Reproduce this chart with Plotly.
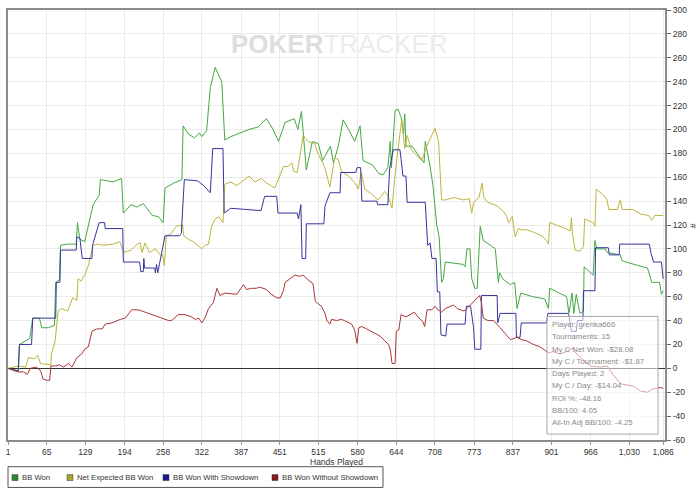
import plotly.graph_objects as go

# ---------------- data ----------------
bbwon_hands = [1, 18, 20, 37, 42, 53, 57, 68, 78, 80, 86, 88, 100, 112, 114, 116, 120, 128, 142, 152, 154, 165, 175, 189,
               192, 205, 215, 225, 232, 240, 250, 258, 261, 275, 289, 291, 300, 310, 318, 322, 330, 336,
               344, 350, 355, 360, 370, 385, 400, 415, 429, 440, 449, 460, 475, 481, 487, 495, 505, 515,
               522, 535, 540, 548, 556, 565, 575, 584, 589, 605, 615, 622, 630, 634, 636, 642, 647, 652,
               656, 658, 660, 670, 690, 692, 700, 705, 711, 715, 719, 722, 725, 740, 755, 758, 761, 766,
               769, 774, 778, 783, 788, 800, 808, 813, 815, 820, 833, 840, 844, 850, 870, 890, 896, 898,
               910, 920, 926, 930, 935, 938, 942, 948, 954, 955, 970, 973, 976, 990, 993, 1015, 1018,
               1045, 1060, 1067, 1080, 1083, 1086]
bbwon_vals = [0, -3, 20, 25, 42, 42, 34, 34, 36, 72, 74, 103, 104, 104, 104, 122, 108, 106, 137, 145, 158, 157, 156, 159,
              130, 137, 135, 138, 133, 128, 127, 122, 151, 155, 158, 203, 196, 193, 197, 194, 199, 235,
              252, 245, 240, 191, 194, 197, 200, 202, 209, 200, 190, 206, 209, 200, 215, 166, 190, 188,
              174, 186, 172, 186, 208, 200, 190, 203, 174, 170, 163, 162, 168, 190, 168, 216, 217, 210,
              196, 213, 186, 186, 172, 190, 169, 152, 120, 110, 72, 75, 89, 88, 87, 85, 100, 100,
              75, 67, 67, 119, 107, 103, 100, 72, 80, 75, 70, 72, 50, 63, 60, 58, 50, 67,
              64, 62, 60, 46, 63, 46, 62, 46, 48, 85, 78, 107, 100, 100, 97, 95, 90,
              86, 84, 72, 72, 62, 65]

netexp_hands = [1, 18, 30, 35, 45, 50, 55, 68, 72, 73, 79, 84, 90, 100, 108, 115, 117, 122, 128, 134,
                142, 150, 160, 175, 186, 193, 205, 215, 220, 223, 228, 235, 245, 253, 257, 260, 263, 270,
                280, 290, 292, 300, 308, 322, 327, 333, 338, 344, 350, 357, 360, 370, 380, 390, 400, 410,
                420, 430, 443, 451, 457, 465, 471, 474, 480, 490, 498, 509, 514, 525, 534, 542, 548, 553,
                565, 576, 581, 586, 592, 603, 614, 625, 630, 637, 642, 648, 653, 658, 662, 669, 686, 692,
                703, 708, 714, 719, 725, 740, 755, 765, 769, 772, 781, 786, 789, 795, 807, 813, 822, 827,
                830, 833, 836, 841, 846, 852, 860, 871, 885, 893, 896, 898, 915, 925, 932, 934, 936, 940,
                948, 954, 956, 970, 973, 975, 987, 993, 996, 1010, 1015, 1018, 1035, 1050, 1062, 1067,
                1072, 1086]
netexp_vals = [0, 2, 1, 9, 8, 11, 4, 3, 3, 12, 23, 48, 50, 48, 59, 57, 75, 73, 78, 86,
               103, 104, 103, 104, 106, 97, 99, 104, 105, 97, 105, 97, 100, 95, 95, 86, 111, 112,
               119, 120, 111, 108, 106, 100, 103, 104, 119, 125, 127, 122, 154, 156, 153, 157, 161, 156,
               159, 155, 151, 161, 169, 169, 172, 165, 164, 195, 190, 188, 180, 169, 152, 176, 175, 165,
               161, 155, 150, 164, 150, 146, 141, 148, 145, 134, 162, 188, 208, 184, 195, 183, 174, 183,
               196, 201, 190, 141, 141, 143, 141, 142, 130, 139, 143, 155, 143, 139, 137, 135, 131, 127,
               122, 124, 127, 110, 117, 116, 116, 114, 111, 107, 104, 122, 119, 117, 115, 126, 112, 99,
               98, 102, 125, 122, 119, 150, 145, 141, 133, 133, 141, 133, 133, 129, 128, 124,
               128, 128]

sd_hands = [1, 18, 20, 40, 42, 80, 81, 87, 88, 114, 115, 120, 124, 140, 141, 152, 161, 162, 191, 192,
            219, 221, 225, 226, 227, 244, 245, 247, 249, 261, 285, 288, 293, 315, 325, 336, 338, 340,
            357, 359, 370, 420, 426, 446, 448, 480, 482, 486, 488, 494, 495, 524, 526, 534, 551, 552,
            577, 579, 585, 587, 612, 613, 630, 633, 639, 650, 652, 655, 660, 662, 692, 694, 696, 700,
            703, 710, 712, 716, 718, 726, 728, 758, 760, 767, 769, 772, 774, 784, 785, 811, 812, 816,
            842, 843, 849, 851, 893, 895, 928, 930, 934, 942, 944, 953, 954, 973, 974, 995, 997, 1013,
            1014, 1063, 1066, 1070, 1083, 1086]
sd_vals = [0, -2, 20, 20, 42, 42, 72, 72, 99, 99, 110, 109, 92, 92, 103, 122, 122, 117, 117, 89,
           89, 81, 81, 92, 84, 84, 80, 87, 80, 111, 111, 113, 158, 157, 153, 147, 165, 184,
           184, 130, 134, 132, 144, 144, 130, 130, 125, 137, 92, 92, 121, 121, 136, 147, 147, 164,
           164, 168, 168, 140, 140, 137, 137, 167, 183, 183, 175, 161, 161, 139, 139, 119, 103, 105,
           92, 92, 64, 64, 28, 27, 37, 37, 52, 52, 46, 34, 16, 16, 61, 61, 38, 46,
           46, 26, 26, 38, 38, 46, 46, 44, 31, 31, 40, 40, 65, 65, 101, 101, 95, 95,
           104, 104, 96, 89, 89, 75]

nsd_hands = [1, 18, 27, 33, 38, 48, 55, 59, 65, 70, 72, 80, 86, 93, 101, 107, 115, 123, 128, 134,
             140, 148, 157, 162, 173, 187, 195, 206, 217, 228, 239, 250, 261, 267, 272, 278, 283, 294,
             305, 311, 317, 322, 327, 333, 341, 347, 352, 360, 380, 391, 396, 404, 412, 418, 429, 437,
             446, 452, 457, 460, 468, 476, 484, 490, 498, 506, 510, 520, 526, 529, 534, 537, 545, 553,
             558, 570, 575, 579, 582, 587, 595, 606, 617, 625, 631, 634, 637, 642, 644, 648, 652, 660,
             666, 674, 680, 688, 691, 695, 703, 708, 713, 719, 725, 739, 745, 751, 756, 761, 773, 782,
             785, 788, 796, 805, 816, 827, 833, 844, 852, 860, 871, 882, 896, 904, 915, 926, 935, 943,
             954, 965, 982, 993, 1004, 1016, 1027, 1038, 1048, 1060, 1070, 1082, 1086]
nsd_vals = [0, -3, -3, -5, 0, 1, -2, -9, -10, -10, 2, 2, 3, 1, 4, 1, 9, 12, 16, 18,
            31, 33, 33, 37, 38, 41, 42, 49, 49, 47, 45, 43, 41, 40, 40, 43, 45, 45,
            43, 41, 42, 38, 42, 50, 55, 67, 61, 63, 62, 70, 66, 67, 67, 68, 66, 62,
            59, 59, 65, 72, 75, 78, 77, 78, 74, 71, 56, 52, 46, 40, 37, 41, 40, 41,
            40, 37, 32, 21, 34, 35, 33, 30, 27, 23, 20, 16, 4, 4, 31, 32, 45, 43,
            45, 47, 43, 39, 35, 49, 49, 52, 49, 47, 50, 53, 50, 49, 48, 50, 56, 61,
            55, 42, 40, 40, 34, 28, 24, 26, 24, 23, 20, 18, 13, 14, 12, 14, 17, 12,
            7, 2, 1, 2, -6, -13, -14, -15, -19, -20, -17, -16, -17]

series_names = ["BB Won", "Net Expected BB Won", "BB Won With Showdown", "BB Won Without Showdown"]
series_hands = [bbwon_hands, netexp_hands, sd_hands, nsd_hands]
series_vals = [bbwon_vals, netexp_vals, sd_vals, nsd_vals]

x_tickvals = [1, 65, 129, 194, 258, 322, 387, 451, 515, 580, 644, 708, 773, 837, 901, 966, 1030, 1086]
x_ticktext = ["1", "65", "129", "194", "258", "322", "387", "451", "515", "580", "644", "708",
              "773", "837", "901", "966", "1,030", "1,086"]
y_tickvals = list(range(-60, 301, 20))
y_ticktext = [str(v) for v in y_tickvals]

info_lines = ["Player: grenka666", "Tournaments: 15", "My C Net Won: -$28.08",
              "My C / Tournament: -$1.87", "Days Played: 2", "My C / Day: -$14.04",
              "ROI %: -48.16", "BB/100: 4.05", "All-In Adj BB/100: -4.25"]

# ---------------- styling ----------------
line_colors = ["#43a843", "#bdb53a", "#34349c", "#a83636"]
legend_colors = ["#2f8a2f", "#a8a830", "#1a1a88", "#8a1a1a"]

W, H = 700, 494
ML, MR, MT, MB = 8, 35, 5, 54
PW, PH = W - ML - MR, H - MT - MB

def px_x(px):
    return (px - ML) / PW

def px_y(py):
    return (H - MB - py) / PH

fig = go.Figure()
for name, hx, vy, col in zip(series_names, series_hands, series_vals, line_colors):
    fig.add_trace(go.Scatter(x=hx, y=vy, mode="lines", name=name,
                             line=dict(color=col, width=1), showlegend=False,
                             hoverinfo="skip"))

font_main = "Liberation Sans, Arial, sans-serif"

fig.update_layout(
    width=W, height=H,
    margin=dict(l=ML, r=MR, t=MT, b=MB),
    paper_bgcolor="white", plot_bgcolor="white",
    showlegend=False,
    font=dict(family=font_main, size=8.5, color="#333333"),
    xaxis=dict(range=[1, 1089], tickvals=x_tickvals, ticktext=x_ticktext,
               showgrid=True, gridcolor="#ebebeb", gridwidth=1,
               zeroline=False, showline=True, linecolor="#8c8c8c", linewidth=2,
               mirror=True, ticks="outside", ticklen=3, tickcolor="#999999",
               tickfont=dict(size=8.5, color="#333333")),
    yaxis=dict(range=[-60, 300], side="right", tickvals=y_tickvals, ticktext=y_ticktext,
               showgrid=True, gridcolor="#ebebeb", gridwidth=1,
               zeroline=True, zerolinecolor="#333333", zerolinewidth=1,
               showline=True, linecolor="#8c8c8c", linewidth=2, mirror=True,
               ticks="outside", ticklen=4, tickcolor="#666666",
               tickfont=dict(size=8.5, color="#333333")),
)

annotations = []
shapes = []

# watermark
annotations.append(dict(
    x=px_x(339), y=px_y(39), xref="paper", yref="paper", showarrow=False,
    text="<b><span style='color:#dedede'>POKER</span></b><span style='color:#ececec'>TRACKER</span>",
    font=dict(family="Liberation Sans, Arial, sans-serif", size=26),
    xanchor="center", yanchor="middle"))

# axis titles
annotations.append(dict(x=px_x(336), y=px_y(462), xref="paper", yref="paper", showarrow=False,
                        text="Hands Played", font=dict(size=8.5, color="#333333"),
                        xanchor="center", yanchor="middle"))
annotations.append(dict(x=px_x(693), y=px_y(223), xref="paper", yref="paper", showarrow=False,
                        text="#", textangle=90, font=dict(size=8.5, color="#333333"),
                        xanchor="center", yanchor="middle"))

# info box
shapes.append(dict(type="rect", xref="paper", yref="paper",
                   x0=px_x(547), x1=px_x(658), y0=px_y(434), y1=px_y(315),
                   fillcolor="rgba(255,255,255,0.55)", line=dict(color="#a8a8a8", width=1),
                   layer="above"))
for i, t in enumerate(info_lines):
    annotations.append(dict(x=px_x(550), y=px_y(323.3 + i * 12.4), xref="paper", yref="paper",
                            showarrow=False, text=t, xanchor="left", yanchor="middle",
                            font=dict(size=7.8, color="#8a8a8a")))

# legend (manual)
shapes.append(dict(type="rect", xref="paper", yref="paper",
                   x0=px_x(8), x1=px_x(383), y0=px_y(488), y1=px_y(467),
                   fillcolor="white", line=dict(color="#555555", width=1)))
leg_sq_x = [12, 67, 163, 272]
for name, col, sx in zip(series_names, legend_colors, leg_sq_x):
    shapes.append(dict(type="rect", xref="paper", yref="paper",
                       x0=px_x(sx), x1=px_x(sx + 6), y0=px_y(481), y1=px_y(475),
                       fillcolor=col, line=dict(color="#333333", width=0.5)))
    annotations.append(dict(x=px_x(sx + 8), y=px_y(478), xref="paper", yref="paper",
                            showarrow=False, text=name, xanchor="left", yanchor="middle",
                            font=dict(size=7.7, color="#333333")))

fig.update_layout(annotations=annotations, shapes=shapes)
fig.write_html("out.html")
